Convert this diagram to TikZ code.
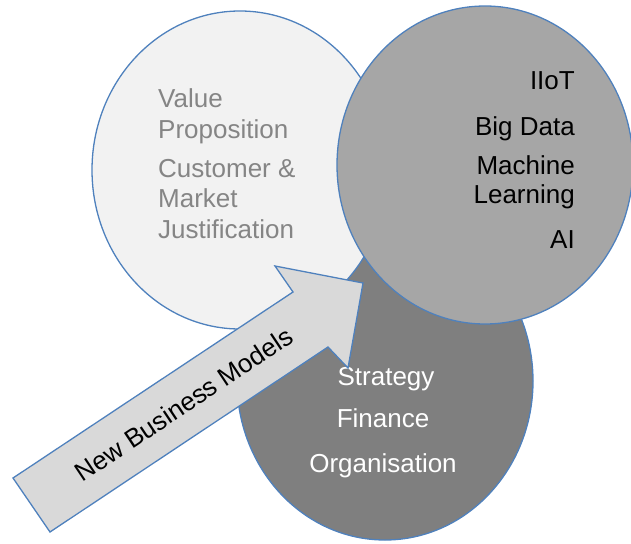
\documentclass[tikz,border=0pt]{standalone}
\usepackage{fontspec}
\setmainfont{Liberation Sans}
\usetikzlibrary{shapes.geometric}
\definecolor{edgeblue}{RGB}{79,129,189}
\definecolor{lightfill}{RGB}{242,242,242}
\definecolor{midfill}{RGB}{166,166,166}
\definecolor{darkfill}{RGB}{127,127,127}
\definecolor{arrowfill}{RGB}{217,217,217}
\definecolor{softtext}{RGB}{133,133,133}
\tikzset{
  blob/.style={ellipse, draw=edgeblue, line width=1.3pt, minimum width=296pt, minimum height=318pt, inner sep=0pt},
  lbl/.style={font=\fontsize{26}{30}\selectfont, inner sep=0pt},
  bigarrow/.style={draw=edgeblue, line width=1.3pt, fill=arrowfill, line join=miter}
}
\begin{document}
\begin{tikzpicture}[x=1pt, y=-1pt]
\useasboundingbox (0,0) rectangle (631,543);
% circles
\node[blob, fill=darkfill] (bottom) at (385,381) {};
\node[blob, fill=lightfill] (left) at (240,170) {};
\node[blob, fill=midfill] (right) at (485,165) {};
% left labels
\node[lbl, text=softtext, anchor=base west] (l1) at (158,107) {Value};
\node[lbl, text=softtext, anchor=base west] (l2) at (158,138) {Proposition};
\node[lbl, text=softtext, anchor=base west] (l3) at (158,177) {Customer \&};
\node[lbl, text=softtext, anchor=base west] (l4) at (158,207) {Market};
\node[lbl, text=softtext, anchor=base west] (l5) at (158,238) {Justification};
% right labels
\node[lbl, text=black, anchor=base east] (r1) at (575,89) {IIoT};
\node[lbl, text=black, anchor=base east] (r2) at (575,135) {Big Data};
\node[lbl, text=black, anchor=base east] (r3) at (575,174) {Machine};
\node[lbl, text=black, anchor=base east] (r4) at (575,203) {Learning};
\node[lbl, text=black, anchor=base east] (r5) at (575,248) {AI};
% bottom labels
\node[lbl, text=white, anchor=base] (b1) at (386,385) {Strategy};
\node[lbl, text=white, anchor=base] (b2) at (383,427) {Finance};
\node[lbl, text=white, anchor=base] (b3) at (383,472) {Organisation};
% arrow
\coordinate (t1) at (13,478);
\coordinate (t2) at (50,532);
\coordinate (s2) at (328,347);
\coordinate (h2) at (348,368);
\coordinate (tip) at (363,283);
\coordinate (h1) at (275,266);
\coordinate (s1) at (293,292);
\draw[bigarrow] (t1) -- (s1) -- (h1) -- (tip) -- (h2) -- (s2) -- (t2) -- cycle;
\node[lbl, text=black, rotate=33.7] (arrowtext) at (184,404) {New Business Models};
\end{tikzpicture}
\end{document}
